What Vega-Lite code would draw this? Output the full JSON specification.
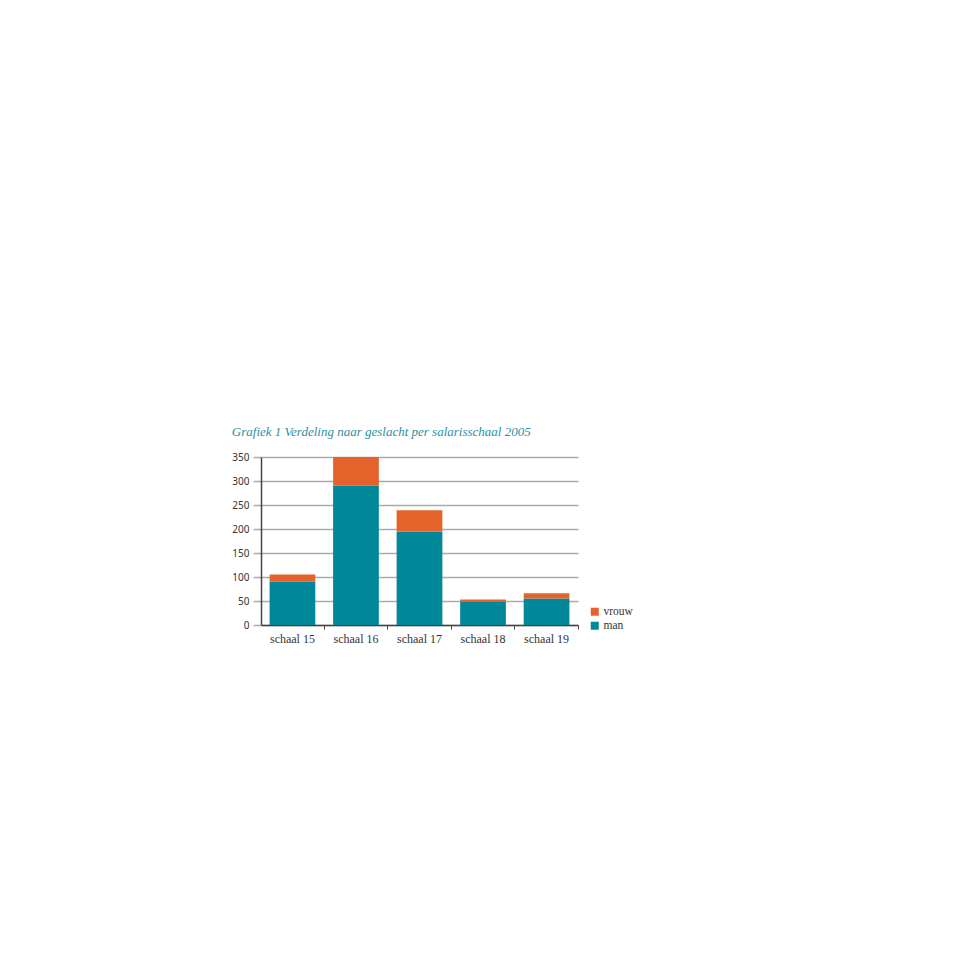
{
  "$schema": "https://vega.github.io/schema/vega-lite/v6.json",
  "autosize": {"type": "none"},
  "width": 317,
  "height": 168,
  "padding": {"left": 261, "top": 457, "right": 382, "bottom": 335},
  "background": "white",
  "title": {
    "text": "Grafiek 1 Verdeling naar geslacht per salarisschaal 2005",
    "anchor": "start",
    "frame": "bounds",
    "font": "Liberation Serif",
    "fontStyle": "italic",
    "fontWeight": "normal",
    "fontSize": 13,
    "color": "#2b8fa1",
    "offset": 13
  },
  "data": {
    "values": [
      {"schaal": "schaal 15", "geslacht": "man", "aantal": 90},
      {"schaal": "schaal 15", "geslacht": "vrouw", "aantal": 15},
      {"schaal": "schaal 16", "geslacht": "man", "aantal": 290},
      {"schaal": "schaal 16", "geslacht": "vrouw", "aantal": 60},
      {"schaal": "schaal 17", "geslacht": "man", "aantal": 195},
      {"schaal": "schaal 17", "geslacht": "vrouw", "aantal": 44},
      {"schaal": "schaal 18", "geslacht": "man", "aantal": 48},
      {"schaal": "schaal 18", "geslacht": "vrouw", "aantal": 5},
      {"schaal": "schaal 19", "geslacht": "man", "aantal": 55},
      {"schaal": "schaal 19", "geslacht": "vrouw", "aantal": 11}
    ]
  },
  "mark": {"type": "bar"},
  "encoding": {
    "x": {
      "field": "schaal",
      "type": "nominal",
      "scale": {"paddingInner": 0.28, "paddingOuter": 0.135},
      "axis": {
        "title": null,
        "labelAngle": 0,
        "labelFont": "Liberation Serif",
        "labelFontSize": 12,
        "labelColor": "#333333",
        "labelPadding": 4,
        "domainColor": "#444444",
        "domainWidth": 1.5,
        "tickColor": "#444444",
        "tickWidth": 1,
        "tickSize": 4,
        "bandPosition": 1.19,
        "grid": false
      }
    },
    "y": {
      "field": "aantal",
      "type": "quantitative",
      "aggregate": "sum",
      "stack": "zero",
      "scale": {"domain": [0, 350], "nice": false},
      "axis": {
        "title": null,
        "values": [0, 50, 100, 150, 200, 250, 300, 350],
        "labelFont": "Noto Sans",
        "labelFontSize": 10,
        "labelColor": "#333333",
        "labelPadding": 4,
        "domainColor": "#444444",
        "domainWidth": 1.5,
        "tickColor": "#aaaaaa",
        "tickWidth": 1.5,
        "tickSize": 8,
        "gridColor": "#aaaaaa",
        "gridWidth": 1.5
      }
    },
    "color": {
      "field": "geslacht",
      "type": "nominal",
      "scale": {"domain": ["vrouw", "man"], "range": ["#e5632a", "#00889a"]},
      "legend": {
        "title": null,
        "orient": "none",
        "legendX": 328,
        "legendY": 149,
        "symbolType": "square",
        "symbolSize": 64,
        "symbolStrokeWidth": 0,
        "labelFont": "Liberation Serif",
        "labelFontSize": 11.5,
        "labelColor": "#333333",
        "labelOffset": 3,
        "rowPadding": 1
      }
    },
    "order": {"field": "geslacht", "sort": "ascending"}
  },
  "config": {
    "view": {"stroke": null},
    "axis": {"zindex": 0}
  }
}
